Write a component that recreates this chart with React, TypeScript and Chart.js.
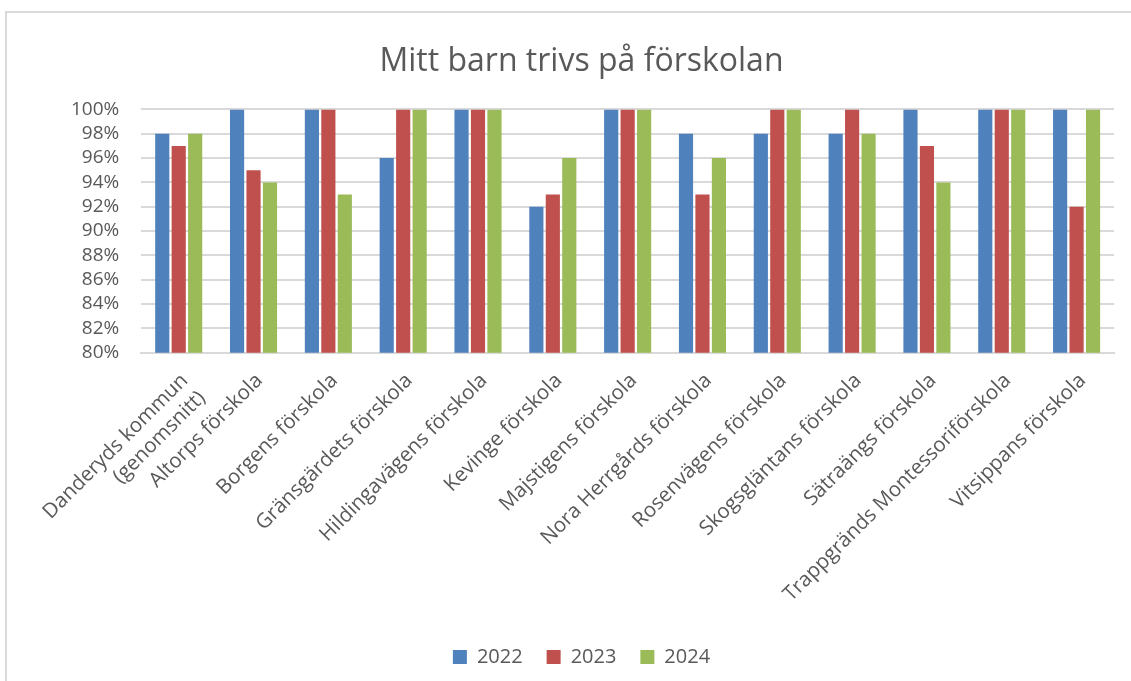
import React, { useEffect, useRef } from "react";
import { Chart, registerables } from "chart.js";

Chart.register(...registerables);

const categories: (string | string[])[] = [
  ["Danderyds kommun", "(genomsnitt)"],
  "Altorps förskola",
  "Borgens förskola",
  "Gränsgärdets förskola",
  "Hildingavägens förskola",
  "Kevinge förskola",
  "Majstigens förskola",
  "Nora Herrgårds förskola",
  "Rosenvägens förskola",
  "Skogsgläntans förskola",
  "Sätraängs förskola",
  "Trappgränds Montessoriförskola",
  "Vitsippans förskola",
];

const values2022 = [98, 100, 100, 96, 100, 92, 100, 98, 98, 98, 100, 100, 100];
const values2023 = [97, 95, 100, 100, 100, 93, 100, 93, 100, 100, 97, 100, 92];
const values2024 = [98, 94, 93, 100, 100, 96, 100, 96, 100, 98, 94, 100, 100];

const seriesLabels = ["2022", "2023", "2024"];
const seriesColors = ["#4F81BD", "#C0504D", "#9BBB59"];

const titleText = "Mitt barn trivs på förskolan";
const yMin = 80;
const yMax = 100;
const yStep = 2;

const FONT = "'Open Sans', sans-serif";
const TEXT = "#595959";

export default function App() {
  const ref = useRef<HTMLCanvasElement | null>(null);

  useEffect(() => {
    if (!ref.current) return;
    const chart = new Chart(ref.current, {
      type: "bar",
      data: {
        labels: categories,
        datasets: [values2022, values2023, values2024].map((d, i) => ({
          label: seriesLabels[i],
          data: d,
          backgroundColor: seriesColors[i],
          borderWidth: 0,
          categoryPercentage: 0.66,
          barPercentage: 0.86,
        })),
      },
      options: {
        animation: false,
        responsive: true,
        maintainAspectRatio: false,
        layout: { padding: { top: 24, left: 49, right: 17, bottom: 4 } },
        plugins: {
          title: {
            display: true,
            text: titleText,
            color: TEXT,
            font: { family: FONT, size: 32, weight: "normal" },
            padding: { top: 19, bottom: 28 },
          },
          legend: {
            position: "bottom",
            labels: {
              color: TEXT,
              font: { family: FONT, size: 20 },
              boxWidth: 14,
              boxHeight: 14,
              padding: 24,
            },
          },
          tooltip: { enabled: false },
        },
        scales: {
          x: {
            grid: { display: false, drawTicks: false },
            border: { display: true, color: "#d9d9d9", width: 2 },
            afterFit: (scale: any) => {
              scale.height -= 17;
            },
            ticks: {
              color: TEXT,
              font: { family: FONT, size: 20.5 },
              maxRotation: 45,
              minRotation: 45,
              autoSkip: false,
              padding: 16,
              labelOffset: 6,
            },
          },
          y: {
            min: yMin,
            max: yMax,
            grid: { color: "#d9d9d9", lineWidth: 2, drawTicks: false },
            border: { display: false },
            ticks: {
              stepSize: yStep,
              autoSkip: false,
              color: TEXT,
              font: { family: FONT, size: 19 },
              padding: 22,
              callback: (v: any) => `${v}%`,
            },
          },
        },
      },
    });
    return () => chart.destroy();
  }, []);

  return (
    <div style={{ position: "fixed", left: 0, top: 0, width: 1131, height: 681, background: "#fff" }}>
      <div
        style={{
          position: "absolute",
          left: 5,
          top: 11,
          right: -2,
          bottom: -2,
          borderLeft: "2px solid #d9d9d9",
          borderTop: "2px solid #d9d9d9",
        }}
      />
      <div style={{ position: "absolute", left: 0, top: 0, width: 1131, height: 681 }}>
        <canvas ref={ref} />
      </div>
    </div>
  );
}
